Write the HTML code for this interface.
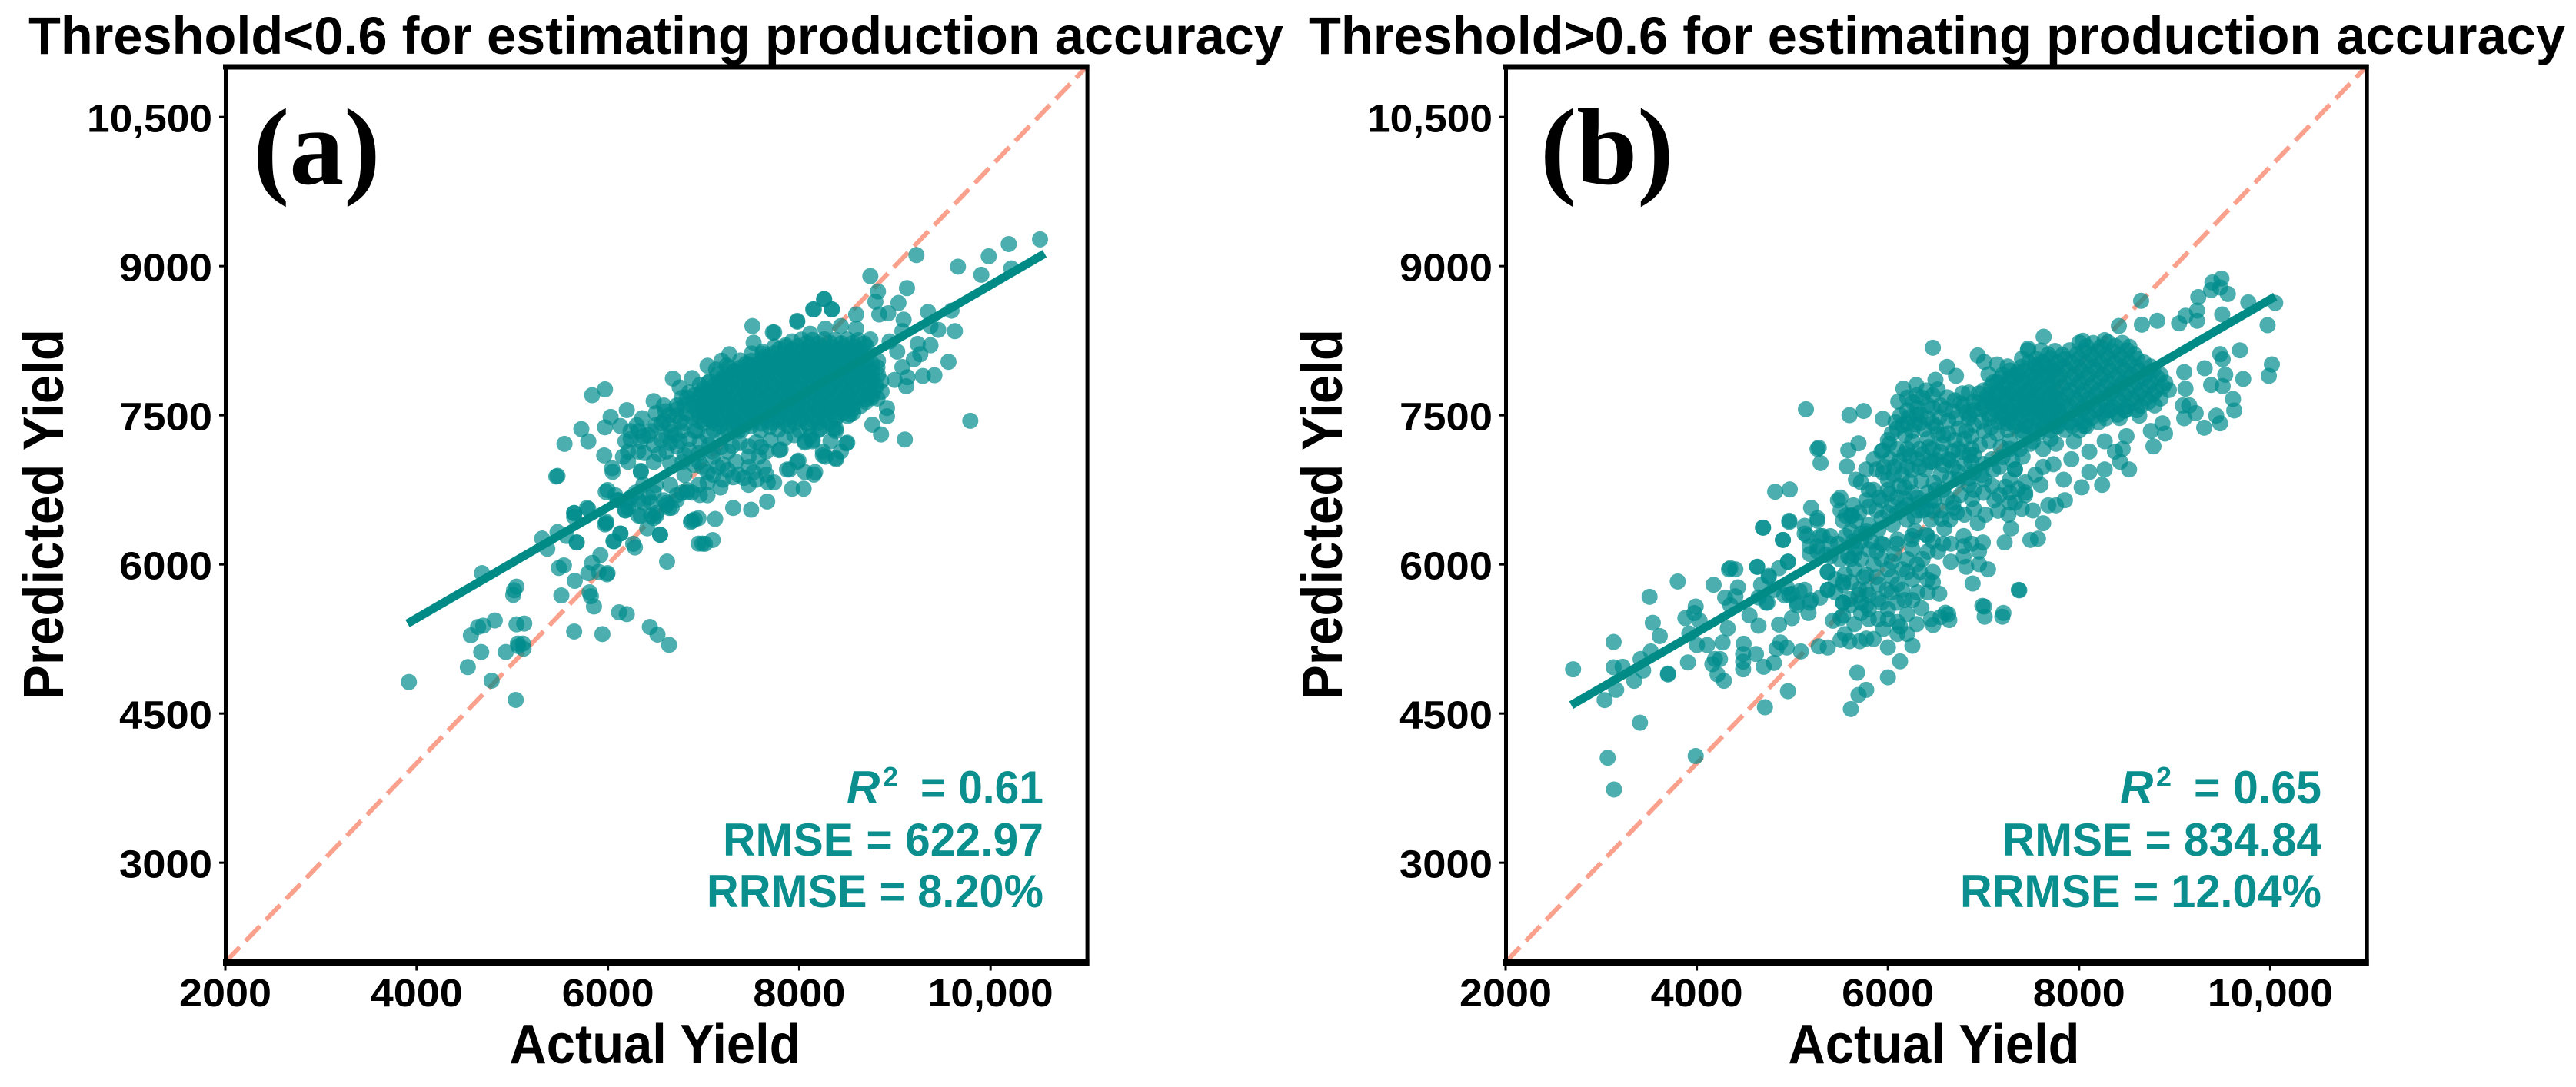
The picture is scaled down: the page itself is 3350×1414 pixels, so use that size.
<!DOCTYPE html>
<html lang="en">
<head>
<meta charset="utf-8">
<title>Actual vs predicted yield by threshold</title>
<style>
html,body{margin:0;padding:0;background:#fff;}
svg{display:block;}
text{font-family:"Liberation Sans","Noto Sans CJK SC",sans-serif;font-weight:700;fill:#000;}
.stat{fill:#0a8f8e;font-size:60px;}
.label{font-family:"Liberation Serif",serif;font-size:142px;}
</style>
</head>
<body>
<svg id="chart" xmlns="http://www.w3.org/2000/svg" width="3350" height="1414" viewBox="0 0 3350 1414">
  <rect width="3350" height="1414" fill="#fff"/>
  <g id="panelA"></g>
  <g id="panelB"></g>

  <text x="37" y="70" font-size="69" textLength="1632" lengthAdjust="spacingAndGlyphs">Threshold&lt;0.6 for estimating production accuracy</text>
  <text x="1702" y="70" font-size="69" textLength="1634" lengthAdjust="spacingAndGlyphs">Threshold&gt;0.6 for estimating production accuracy</text>

  <text class="label" x="329" y="239">(a)</text>
  <text class="label" x="2003" y="239">(b)</text>

  <text x="852" y="1383" font-size="72" text-anchor="middle" textLength="379" lengthAdjust="spacingAndGlyphs">Actual Yield</text>
  <text x="2515" y="1383" font-size="72" text-anchor="middle" textLength="379" lengthAdjust="spacingAndGlyphs">Actual Yield</text>
  <text transform="translate(82,669) rotate(-90)" font-size="74" text-anchor="middle" textLength="482" lengthAdjust="spacingAndGlyphs">Predicted Yield</text>
  <text transform="translate(1745,669) rotate(-90)" font-size="74" text-anchor="middle" textLength="482" lengthAdjust="spacingAndGlyphs">Predicted Yield</text>

  <g>
    <text class="stat" x="1101" y="1045" font-style="italic">R</text>
    <text class="stat" x="1148" y="1023" style="font-size:36px">2</text>
    <text class="stat" x="1197" y="1045" textLength="160" lengthAdjust="spacingAndGlyphs">= 0.61</text>
    <text class="stat" x="940" y="1113" textLength="417" lengthAdjust="spacingAndGlyphs">RMSE = 622.97</text>
    <text class="stat" x="919" y="1180" textLength="438" lengthAdjust="spacingAndGlyphs">RRMSE = 8.20%</text>
  </g>
  <g>
    <text class="stat" x="2757" y="1045" font-style="italic">R</text>
    <text class="stat" x="2804" y="1023" style="font-size:36px">2</text>
    <text class="stat" x="2853" y="1045" textLength="166" lengthAdjust="spacingAndGlyphs">= 0.65</text>
    <text class="stat" x="2604" y="1113" textLength="415" lengthAdjust="spacingAndGlyphs">RMSE = 834.84</text>
    <text class="stat" x="2549" y="1180" textLength="470" lengthAdjust="spacingAndGlyphs">RRMSE = 12.04%</text>
  </g>
</svg>
<script>
const xTickValues = [2000, 4000, 6000, 8000, 10000];
const xTickLabels = ["2000", "4000", "6000", "8000", "10,000"];
const yTickValues = [3000, 4500, 6000, 7500, 9000, 10500];
const yTickLabels = ["3000", "4500", "6000", "7500", "9000", "10,500"];
const axisDomain = [2000, 11000];
const regressionActualA = [3905, 10565];
const regressionPredictedA = [5405, 9125];
const regressionActualB = [2687, 10052];
const regressionPredictedB = [4584, 8694];

const scatterA = [
[3919,4817],[4535,4967],[4675,5119],[4784,4830],[5036,4637],[4932,5119],[5058,5204],[5117,5152],[5111,5204],[5063,5178],
[4567,5286],[4642,5371],[4696,5384],[4817,5436],[5044,5397],[5125,5405],[5010,5693],[5018,5740],[5044,5776],[4683,5912],
[5513,5688],[5653,5835],[5808,5719],[5822,5680],[5854,5577],[5647,5325],[5942,5299],[6116,5518],[6197,5500],[6438,5371],
[6518,5294],[6639,5191],[6618,6028],[6282,6170],[5487,5964],[5540,5990],[5795,5912],[5835,6015],[5921,6093],[5996,5912],
[5990,5900],[5902,5925],[6057,6234],[6130,6312],[5969,6402],[5982,6428],[5674,6222],[5366,6157],[5312,6260],[5473,6325],
[5567,6286],[5647,6518],[5647,6479],[5795,6557],[5460,6884],[5977,6729],[6545,6299],[6411,6363],[6478,6466],[6867,6428],
[6907,6453],[6987,6209],[6947,6209],[6049,6930],[6344,6930],[6103,6647],[6210,6621],[6317,6647],[6451,6621],[6612,6595],
[6719,6647],[6827,6724],[6183,6544],[6317,6492],[6505,6518],[6666,6570],[6960,6698],[6371,6801],[6478,6724],[6291,6724],
[5835,7702],[5969,7761],[5546,7212],[5722,7361],[5795,7238],[5969,7379],[6028,7483],[6197,7552],[6358,7470],[6478,7642],
[5961,7096],[6044,6967],[5473,6890],[6679,7869],[6880,7874],[7041,7998],[7188,8049],[7269,8114],[7510,8397],[7724,8333],
[7523,8230],[7979,8449],[8153,8565],[8260,8668],[8341,8565],[7858,8204],[7617,8140],[7309,6568],[7497,6550],[7665,6632],
[7121,6457],[6880,6439],[6947,6465],[7014,6207],[7095,6245],[6545,6297],[5674,6220],[6063,6233],[6130,6310],[5982,6413],
[6264,6207],[7041,6696],[7925,6761],[8046,6761],[8153,6903],[7899,6954],[7992,7044],[7805,7155],[8059,7225],[8140,7238],
[8247,7135],[8381,7070],[8502,7225],[8381,7367],[7470,6800],[7671,6825],[7523,6928],[7309,6877],[7175,6774],[6827,6748],
[6719,6696],[6612,6619],[6451,6490],[6371,6619],[6183,6542],[6076,6696],[5996,6748],[5647,6516],[5781,6568],[6532,7109],
[6612,7135],[6719,7186],[6210,7135],[6344,6941],[6210,7032],[6237,7263],[6371,7289],[6559,7418],[6719,7495],[6773,7676],
[6585,7598],[6880,7598],[6907,7341],[7041,7289],[7095,7083],[7041,6928],[7202,7006],[7336,7032],[7470,7186],[7577,7083],
[7657,7135],[7363,7341],[7202,7289],[6961,7805],[6300,7400],[6420,7300],[6660,7330],[6800,7420],[6640,7500],[6500,7520],
[6320,7340],[6800,7600],[6700,7300],[6850,7150],[6900,7000],[6800,6900],[6650,6800],[6500,6800],[6950,6800],[7100,6900],
[10517,9269],[10190,9222],[9981,9099],[9659,8995],[9903,8913],[10217,8977],[9225,9111],[8743,8900],[8823,8745],[9126,8779],
[9037,8630],[8796,8642],[8260,8668],[8145,8565],[8341,8565],[7979,8441],[8595,8514],[7738,8333],[8836,8514],[8930,8526],
[9091,8462],[9346,8539],[9592,8552],[9627,8346],[9453,8359],[9372,8398],[9372,8204],[9560,8037],[9413,7903],[9292,7895],
[9198,8063],[9265,8114],[9238,8217],[9131,7882],[9118,7792],[8997,7856],[9078,7985],[9024,8140],[9078,8346],[8944,8243],
[9788,7444],[9104,7256],[8855,7307],[8764,7405],[8917,7490],[8917,7573],[8493,7217],[8386,7058],[8247,7096],[8059,7238],
[8140,7251],[8354,7367],[7979,7032],[8166,6929],[7872,6954],[7791,7148],[8528,7509],[8756,7676],[8059,6929],
[6237,7341],[6344,7238],[6451,7341],[6585,7444],[6719,7598],[6827,7676],[6934,7547],[6773,7341],[6612,7289],[6934,7341],
[7095,7444],[7095,7598],[7041,7727],[7202,7856],[7309,7934],[7470,8011],[7631,8088],[7791,8165],[7925,8243],[8113,8320],
[8274,8372],[8435,8397],[8595,8372],[6130,7392],[6183,7238],[6157,7083],[6317,7135],[6103,6645],[6237,6671],[6425,6671],
[6585,6645],[6773,6722],[6880,6722],[6210,6568],[6344,6490],[6505,6490],[6639,6568],[7041,6825],[7202,6851],[7363,6903],
[7148,6980],[6987,6980],[7095,7135],[7255,7135],[7470,7083],[7470,6980],[7631,6980],[7657,6903],[7550,6851],[7738,6825],
[8327,7238],[8435,7135],[8274,7083],[8381,7341],[8113,7289],[8220,7367],
[6480,7200],[6560,7250],[6650,7220],[6750,7240],[6850,7260],[6960,7230],[7060,7200],[6500,7400],[6640,7400],[6760,7440],
[6880,7480],[6960,7440],[6720,7560],[6820,7520],[6600,7540],[6900,7700],[6980,7740],[7050,7830],[7130,7960],[7240,8000],
[6850,7730],[6750,7780],[6800,7100],[6950,7120],[7180,7180],[7300,7190],[7380,7220],[7550,7230],[7700,7250],[7850,7270],
[7950,7300],[7600,7180],[6380,7120],[6480,7030],[6650,7020],[6780,7030],[6950,7030],[7250,6950],[7420,6870],
[7104,7352],[7253,7345],[7402,7356],[7597,7348],[7781,7354],[8003,7347],[8204,7352],
[7003,7421],[7118,7417],[7244,7425],[7358,7418],[7483,7422],[7602,7416],[7718,7424],[7843,7419],[7957,7423],[8082,7417],[8203,7421],[8318,7425],
[6952,7491],[7068,7487],[7193,7495],[7309,7488],[7434,7492],[7548,7486],[7673,7494],[7788,7489],[7913,7493],[8028,7487],[8153,7491],[8268,7495],[8393,7488],[8507,7492],
[7004,7561],[7117,7557],[7243,7564],[7358,7558],[7484,7562],[7597,7556],[7723,7563],[7838,7559],[7963,7562],[8077,7557],[8203,7561],[8318,7564],[8443,7558],[8557,7562],
[6903,7631],[7018,7627],[7143,7634],[7257,7628],[7384,7632],[7497,7626],[7623,7633],[7738,7629],[7863,7632],[7977,7627],[8103,7631],[8218,7634],[8343,7628],[8457,7632],[8583,7627],[8698,7633],
[6963,7701],[7078,7697],[7203,7704],[7317,7698],[7443,7702],[7558,7696],[7683,7703],[7797,7699],[7923,7702],[8037,7697],[8163,7701],[8277,7704],[8403,7698],[8517,7702],[8643,7697],[8757,7703],
[7003,7771],[7118,7767],[7243,7774],[7357,7768],[7483,7772],[7597,7766],[7723,7773],[7838,7769],[7963,7772],[8077,7767],[8203,7771],[8317,7774],[8443,7768],[8557,7772],[8683,7767],[8797,7773],
[7063,7841],[7177,7837],[7303,7844],[7418,7838],[7543,7842],[7657,7836],[7783,7843],[7897,7839],[8023,7842],[8137,7837],[8263,7841],[8378,7844],[8503,7838],[8617,7842],[8743,7837],[8857,7843],
[7143,7911],[7258,7907],[7383,7914],[7497,7908],[7623,7912],[7738,7906],[7863,7913],[7977,7909],[8103,7912],[8217,7907],[8343,7911],[8458,7914],[8583,7908],[8697,7912],[8823,7907],
[7263,7981],[7378,7977],[7503,7984],[7617,7978],[7743,7982],[7858,7976],[7983,7983],[8097,7979],[8223,7982],[8337,7977],[8463,7981],[8578,7984],[8703,7978],[8817,7982],
[7383,8051],[7497,8047],[7623,8054],[7738,8048],[7863,8052],[7977,8046],[8103,8053],[8217,8049],[8343,8052],[8457,8047],[8583,8051],[8698,8054],[8823,8048],
[7503,8121],[7617,8117],[7743,8124],[7857,8118],[7983,8122],[8097,8116],[8223,8123],[8337,8119],[8463,8122],[8577,8117],[8703,8121],
[7743,8191],[7857,8187],[7983,8194],[8097,8188],[8223,8192],[8337,8186],[8463,8193],[8577,8189],[8703,8192],
[8023,8261],[8137,8257],[8263,8264],[8377,8258],[8503,8262],[8617,8256],[8743,8263],
[7166,7389],[7318,7382],[7497,7391],[7692,7384],[7889,7390],[8102,7383],
[7058,7458],[7178,7452],[7301,7461],[7419,7454],[7542,7459],[7661,7451],[7779,7460],[7902,7455],[8019,7458],[8143,7452],[8261,7457],[8379,7461],
[7011,7527],[7129,7522],[7252,7530],[7371,7523],[7491,7528],[7609,7521],[7732,7529],[7848,7524],[7971,7527],[8089,7522],[8212,7526],[8329,7530],[8451,7523],[8566,7527],
[6964,7597],[7083,7592],[7201,7599],[7322,7593],[7439,7597],[7561,7591],[7681,7598],[7802,7594],[7918,7597],[8041,7592],[8159,7596],[8281,7599],[8398,7593],[8521,7597],[8638,7592],
[7021,7667],[7141,7662],[7259,7669],[7382,7663],[7498,7667],[7621,7661],[7739,7668],[7862,7664],[7978,7667],[8101,7662],[8219,7666],[8341,7669],[8458,7663],[8581,7667],[8699,7662],[8818,7668],
[7061,7737],[7181,7732],[7299,7739],[7421,7733],[7541,7737],[7658,7731],[7781,7738],[7899,7734],[8021,7737],[8141,7732],[8259,7736],[8381,7739],[8499,7733],[8621,7737],[8741,7732],[8861,7738],
[7121,7807],[7238,7802],[7361,7809],[7479,7803],[7601,7807],[7719,7801],[7841,7808],[7958,7804],[8081,7807],[8199,7802],[8321,7806],[8439,7809],[8561,7803],[8679,7807],[8801,7802],
[7201,7877],[7319,7872],[7441,7879],[7559,7873],[7681,7877],[7799,7871],[7921,7878],[8039,7874],[8161,7877],[8279,7872],[8401,7876],[8519,7879],[8641,7873],[8759,7877],
[7321,7947],[7439,7942],[7561,7949],[7679,7943],[7801,7947],[7919,7941],[8041,7948],[8159,7944],[8281,7947],[8399,7942],[8521,7946],[8639,7949],[8761,7943],
[7441,8017],[7559,8012],[7681,8019],[7799,8013],[7921,8017],[8039,8011],[8161,8018],[8279,8014],[8401,8017],[8519,8012],[8641,8016],[8759,8019],
[7681,8087],[7799,8082],[7921,8089],[8039,8083],[8161,8087],[8279,8081],[8401,8088],[8519,8084],[8641,8087],
[7921,8157],[8039,8152],[8161,8159],[8279,8153],[8401,8157],[8519,8151],[8641,8158],
[8081,8227],[8201,8222],[8321,8229],[8441,8223],[8561,8227],[8681,8221]
];

const scatterB = [
[2706,4945],[3130,5220],[3036,4635],[3406,4408],[3068,4055],[3134,3736],[3989,4073],[3506,5674],[3801,5828],[3540,5413],[3613,5279],
[3130,4965],[3224,4970],[3157,4738],[3345,4829],[3439,4932],[3412,5048],[3519,5125],[3699,4901],[3699,4893],[3908,5014],
[3989,5576],[3975,5511],[3881,5460],[4029,5434],[3922,5305],[4002,5189],[4109,5189],[4190,5048],[4163,4996],[4243,5048],
[4217,4893],[4284,4829],[4324,5357],[4270,5215],[4176,5795],[4351,5962],[4337,5950],[4404,5950],[4297,5666],[4431,5769],
[4404,5679],[4351,5589],[4552,5486],[4646,5383],[4632,5975],[4753,5885],[4673,5795],[4861,5962],[4954,6027],[4740,5615],
[4914,5692],[4995,5705],[5075,5730],[5196,5640],[5169,5511],[4995,5460],[4861,5395],[5048,5589],[4490,5202],[4485,5099],
[4485,5022],[4485,4945],[4619,5099],[4700,4970],[4807,5009],[4874,5215],[4941,5164],[4834,5151],[5089,5125],[5276,5176],
[5370,5164],[5504,5241],[5598,5228],[5706,5228],[5773,5254],[4954,4725],[4713,4563],[5679,4911],[5692,4687],[5773,4738],
[5612,4545],[4692,6370],[4901,6246],[4968,6439],[5129,6310],[5290,6284],[5263,6465],[5183,6104],[5370,5924],[5370,5743],
[5531,5795],[5531,5615],[5424,5434],[5504,5460],[5719,5511],[5746,5872],[5612,6491],[5719,6310],[5612,6053],
[5142,7561],[5598,7501],[5746,7543],[5947,7465],[6470,8179],[6940,8102],[7463,8153],[6618,7986],[6497,7857],[6712,7896],
[6296,7805],[6162,7767],[6108,7638],[5263,7161],[5295,7019],[5276,7174],[5585,7148],[5692,7218],[5571,6986],[5665,6852],
[5947,7148],[6068,6981],[5880,6955],[4820,6731],[4973,6754],[4694,6370],[4901,6246],[4968,6427],[5196,6569],[5477,6646],
[5504,6672],[5625,6491],[5129,6388],[5263,6440],[5316,6285],[5155,6285],[5773,6646],[5907,6672],[6041,6594],[6175,6775],
[6309,6672],[6443,6646],[6202,6594],[6363,6543],[5880,6543],[5612,6337],[5477,6208],[5719,6233],[6282,6337],[6886,5808],
[7369,5744],[7007,5576],[7208,5512],[6631,5499],[6537,5705],[7047,5950],[6953,6002],[6819,5976],[6658,6027],[6940,6414],
[7288,6362],[7221,6221],[7490,6246],[7570,6259],[7624,6414],[6993,6221],[6792,6285],[6873,6208],[6792,6182],[6591,6362],
[6577,6208],[6416,6130],[6255,6156],[6068,6105],[5933,6053],[5773,5898],[5531,5821],[5370,5744],[5370,5924],[5182,5615],
[4968,5692],[4954,6027],[4753,5873],[4632,5976],[4726,5615],[5531,5615],[5799,5692],[6041,5718],[6255,5847],[6416,5847],
[6175,5641],[6416,5718],[6202,7548],[6363,7677],[6470,7702],[6846,7728],[6416,7470],[6255,7342],[6041,7316],[6524,7316],
[6712,7470],[6899,7548],[7087,7625],[7007,8037],[7141,8011],[7141,7831],[7355,7934],[7543,8012],[7624,8037],[7758,7960],
[7275,7728],[7490,7754],[7678,7805],[7382,7548],[7597,7599],[7758,7651],[7194,7470],[7436,7393],[7651,7419],[6873,7290],
[6738,7161],[6470,7161],[6309,7058],[6390,6955],[6551,6903],[6738,6852],[6899,6929],[7087,7058],[7275,7161],[7490,7213],
[7704,7264],[7329,6955],[7543,6903],[7731,7007],[7275,6723],[7436,6697],[7114,6646],[6899,6749],[6685,6620],[6551,6543],
[7678,6594],[7516,6543],[7275,6620],[6738,7367],[7007,7342],[6631,7316],[6094,7161],[6175,7110],[6000,7250],[6150,7400],
[6300,7500],[6550,7600],[6700,7650],[6850,7500],[6000,6850],[6150,6900],[6250,6950],[6500,7050],[6650,7050],[6850,7100],
[5850,6750],[6000,6750],[6500,6750],[6800,6500],[6650,6450],[6450,6450],[6200,6450],[6050,6400],[5900,6350],[5800,6400],
[6100,6250],[6250,6250],[6400,6300],[5950,6200],[5800,6150],[5650,6100],[5500,6050],[5350,6100],[5850,6000],[6000,5950],
[6150,5950],[6300,6000],[5650,5950],[5550,5900],[5450,5850],[5900,5800],[6100,5800],[5700,5750],[5600,5650],[5900,5650],
[5800,5550],[6000,5550],[6200,5500],[6350,5560],
[6202,7677],[6309,7574],[6202,7419],[6336,7419],[6470,7574],[6470,7419],[6631,7445],[6792,7599],[6846,7470],[6953,7625],
[7060,7470],[7168,7599],[7302,7548],[7436,7625],[7543,7522],[7678,7522],[7785,7548],[7275,7883],[7409,7857],[7543,7883],
[7678,7909],[7168,7728],[7382,7702],[7543,7702],[7704,7702],[7248,7419],[7409,7316],[7570,7316],[7758,7393],[7141,7316],
[6094,7367],[6255,7239],[6416,7264],[6577,7213],[6819,7342],[6873,7161],[6631,7058],[6470,7032],[6363,7110],[6202,7161],
[6014,7213],[5933,7135],[5853,7058],[5773,6955],[5960,6981],[5719,6826],[5799,6749],[5933,6646],[6094,6672],[6255,6723],
[6416,6723],[6577,6749],[6738,6929],[6873,7032],[7168,6981],[7409,7084],[7624,7161],[7275,6852],[7007,6852],[6846,6800],
[7436,6826],[7597,6800],[7168,6697],[6685,6568],[6470,6543],[6309,6543],[6094,6517],[5933,6465],[5638,6594],[5558,6491],
[5504,6543],[6255,6285],[6416,6285],[6094,6208],[5933,6208],[5773,6337],[5826,6233],[5665,6156],[5558,6285],[5397,6208],
[5263,6130],[5182,6182],[5397,6079],[5585,6079],[5719,6053],[5880,6130],[6041,6027],[6202,6053],[6363,6053],[6524,6130],
[6470,6233],[6658,6208],[6792,6079],[6953,6130],[5880,5873],[6041,5873],[6202,5924],[6336,5924],[6470,5924],[5987,5744],
[6148,5744],[6309,5718],[6470,5821],[5933,5615],[6094,5615],[6255,5641],[5719,5615],[5612,5821],[5773,5744],[5451,5718],
[5290,5666],[5129,5744],[4941,5770],[4807,5744],[4646,5667],[5048,5615],[5531,6439],[5665,6439],[5773,6310],[5639,6233],
[5397,6284],[5263,6181],[5612,5589],[5692,5692],[5531,5486],[5773,5589],[5800,5450],[5900,5450],[6000,5450],[6100,5420],
[5950,5350],[6100,5300],[6200,5300],[5650,5400],[5550,5300],[5850,5250],[6300,5400],[6450,5450],[6550,5470],
[6602,5514],[6988,5583],[7012,5474],[7197,5474],[7374,5739],[6642,5440],[6473,5390],[6127,5375],[6256,5182],[6000,5166],
[6127,5025],[6000,4864],
[6260,7630],[6340,7510],[6420,7600],[6540,7480],[6600,7560],[6680,7540],[6760,7620],[6820,7530],[6900,7640],[6980,7560],
[7040,7700],[6950,7720],[6780,7720],[6620,7680],[6520,7760],[6400,7750],[6300,7700],[6220,7480],[6130,7500],[6080,7430],
[6180,7300],[6280,7410],[6380,7360],[6500,7390],[6580,7300],[6700,7250],[6800,7260],[6900,7400],[6980,7440],[7080,7380],
[7060,7240],[6960,7200],[6900,7100],[6780,7130],[6680,7140],[6550,7130],[6430,7180],[6330,7160],[6230,7090],[6120,7040],
[6020,7060],[5950,6920],[6060,6900],[6200,6980],[6330,6980],[6440,7030],[6580,7000],[6680,6980],[6800,7010],[7000,7010],
[7100,6950],[7200,7080],[7180,7180],[7300,7050],[7380,7160],[6980,6900],[6850,6870],[6650,6860],[6480,6820],[6350,6840],
[6230,6830],[6120,6790],[6020,6710],[6180,6660],[6330,6620],[6480,6640],[6620,6670],[6760,6700],[6880,6660],[7000,6720],
[7090,6790],[7230,6780],[7360,6760],[5800,6580],[5700,6520],[6000,6520],[6150,6560],[6280,6480],[6400,6560],[6560,6460],
[6720,6520],[6900,6560],[7020,6500],[7150,6540],[7260,6500],[7400,6560],
[10052,8630],[9972,8406],[10017,8012],[9985,7896],[9770,8635],[9489,8875],[9395,8836],[9381,8759],[9475,8785],[9556,8720],
[9247,8689],[9234,8553],[9497,8514],[8649,8651],[8416,8398],[8657,8411],[8818,8450],[9046,8424],[9113,8501],[9234,8450],
[7629,8290],[7468,8171],[8040,8249],[8268,8256],[9682,8153],[9475,8115],[9502,8063],[9314,7973],[9529,7908],[9717,7865],
[9381,7805],[9502,7793],[9610,7664],[9623,7548],[9435,7496],[9475,7419],[9309,7375],[9100,7470],[9086,7599],[9153,7599],
[9220,7522],[9113,7767],[8939,7754],[9100,7934],[8791,7599],[8630,7496],[8295,7548],[8483,7548],[8872,7419],[8751,7342],
[8899,7316],[8778,7187],[8496,7290],[8456,7161],[8523,6955],[8429,7032],[8241,6800],[8027,6775],[7839,6852],[7852,6646],
[7758,6594],[7436,6723],[7329,6620],[8268,7238],[8107,7135],[8268,6955],[8107,6929],[7919,7058],[7624,6981],[7329,6955],
[8053,7393],[7946,7238],[7758,7213],[7517,7238],[7275,7238],[8375,7135],
[7253,7351],[7402,7346],[7551,7354],[7698,7348],[7853,7352],[8002,7347],
[7152,7431],[7298,7427],[7453,7434],[7601,7428],[7752,7432],[7897,7426],[8052,7433],[8203,7429],
[7053,7511],[7198,7507],[7352,7514],[7503,7508],[7648,7512],[7802,7506],[7953,7513],[8098,7509],[8252,7512],[8403,7507],
[7002,7591],[7153,7587],[7298,7594],[7452,7588],[7603,7592],[7748,7586],[7902,7593],[8053,7589],[8198,7592],[8352,7587],[8503,7591],[8648,7594],
[7052,7671],[7203,7667],[7348,7674],[7502,7668],[7653,7672],[7798,7666],[7952,7673],[8103,7669],[8248,7672],[8402,7667],[8553,7671],[8698,7674],[8852,7668],
[7003,7751],[7148,7747],[7302,7754],[7453,7748],[7598,7752],[7752,7746],[7903,7753],[8048,7749],[8202,7752],[8353,7747],[8498,7751],[8652,7754],[8803,7748],
[7102,7831],[7253,7827],[7398,7834],[7552,7828],[7703,7832],[7848,7826],[8002,7833],[8153,7829],[8298,7832],[8452,7827],[8603,7831],[8748,7834],[8902,7828],
[7052,7911],[7198,7907],[7352,7914],[7503,7908],[7648,7912],[7802,7906],[7953,7913],[8098,7909],[8252,7912],[8403,7907],[8548,7911],[8702,7914],[8853,7908],
[7252,7991],[7398,7987],[7553,7994],[7702,7988],[7848,7992],[8003,7986],[8152,7993],[8298,7989],[8453,7992],[8602,7987],[8748,7991],
[7403,8071],[7548,8067],[7702,8074],[7853,8068],[7998,8072],[8152,8066],[8303,8073],[8448,8069],[8602,8072],
[7603,8151],[7748,8147],[7902,8154],[8053,8148],[8198,8152],[8352,8146],[8503,8153],
[8003,8231],[8148,8227],[8302,8234],[8453,8228],
[7329,7392],[7478,7386],[7627,7394],[7776,7389],[7929,7393],[8078,7388],
[7226,7471],[7375,7467],[7529,7474],[7677,7468],[7826,7472],[7975,7466],[8128,7473],[8279,7469],[8424,7472],
[7127,7551],[7276,7547],[7428,7554],[7579,7548],[7724,7552],[7878,7546],[8027,7553],[8176,7549],[8328,7552],[8477,7547],[8602,7551],
[7077,7631],[7228,7627],[7376,7634],[7527,7628],[7678,7632],[7826,7626],[7978,7633],[8127,7629],[8276,7632],[8428,7627],[8577,7631],[8726,7634],
[7126,7711],[7277,7707],[7426,7714],[7578,7708],[7727,7712],[7876,7706],[8028,7713],[8177,7709],[8326,7712],[8478,7707],[8627,7711],[8776,7714],
[7077,7791],[7226,7787],[7378,7794],[7527,7788],[7676,7792],[7828,7786],[7977,7793],[8126,7789],[8278,7792],[8427,7787],[8576,7791],[8728,7794],[8877,7788],
[7176,7871],[7327,7867],[7476,7874],[7628,7868],[7777,7872],[7926,7866],[8078,7873],[8227,7869],[8376,7872],[8528,7867],[8677,7871],[8826,7874],
[7276,7951],[7427,7947],[7578,7954],[7727,7948],[7876,7952],[8028,7946],[8177,7953],[8326,7949],[8478,7952],[8627,7947],[8776,7951],
[7477,8031],[7626,8027],[7778,8034],[7927,8028],[8076,8032],[8228,8026],[8377,8033],[8526,8029],[8678,8032],
[7678,8111],[7827,8107],[7976,8114],[8128,8108],[8277,8112],[8426,8106],[8578,8113],
[8077,8191],[8226,8187],[8378,8194],[8527,8188]
];

const svgNS = 'http://www.w3.org/2000/svg';
const AXIS_TOP = 87.5;
const AXIS_BOTTOM = 1251.5;
const TICK_FONT = 51;

function makeLinear(domain, range) {
  const k = (range[1] - range[0]) / (domain[1] - domain[0]);
  return function (v) { return range[0] + (v - domain[0]) * k; };
}
function make(tag, props, parent) {
  const el = document.createElementNS(svgNS, tag);
  for (const key in props) el.setAttribute(key, props[key]);
  parent.appendChild(el);
  return el;
}

function drawPanel(group, prefix, left, right, points, regX, regY, clipId) {
  const xAxis = makeLinear(axisDomain, [left, right]);
  const yAxis = makeLinear(axisDomain, [AXIS_BOTTOM, AXIS_TOP]);
  const svg = document.getElementById('chart');

  const clip = make('clipPath', {id: clipId}, svg);
  make('rect', {x: left, y: AXIS_TOP, width: right - left, height: AXIS_BOTTOM - AXIS_TOP}, clip);

  const diagonal = make('line', {
    x1: xAxis(axisDomain[0]), y1: yAxis(axisDomain[0]), x2: xAxis(axisDomain[1]), y2: yAxis(axisDomain[1]),
    stroke: '#f9a18d', 'stroke-width': 6, 'stroke-dasharray': '27 11', 'clip-path': 'url(#' + clipId + ')'
  }, group);
  
  

  const pointsGroup = make('g', {fill: '#008b8b', 'fill-opacity': 0.7}, group);
  
  
  points.forEach(function (p) {
    const dot = make('circle', {cx: xAxis(p[0]), cy: yAxis(p[1]), r: 10.5}, pointsGroup);
    
    
  });

  const regression = make('line', {
    x1: xAxis(regX[0]), y1: yAxis(regY[0]), x2: xAxis(regX[1]), y2: yAxis(regY[1]),
    stroke: '#008b87', 'stroke-width': 11
  }, group);
  
  

  xTickValues.forEach(function (v, i) {
    const tick = make('line', {x1: xAxis(v), x2: xAxis(v), y1: AXIS_BOTTOM, y2: AXIS_BOTTOM + 11, stroke: '#000', 'stroke-width': 3}, group);
    
    
    const label = make('text', {
      x: xAxis(v), y: 1309, 'font-size': TICK_FONT, 'text-anchor': 'middle',
      textLength: xTickLabels[i].length > 4 ? 163 : 120, lengthAdjust: 'spacingAndGlyphs'
    }, group);
    label.textContent = xTickLabels[i];
    
    
  });

  yTickValues.forEach(function (v, i) {
    const tick = make('line', {x1: left - 8, x2: left, y1: yAxis(v), y2: yAxis(v), stroke: '#000', 'stroke-width': 3}, group);
    
    
    const wide = yTickLabels[i].length > 4;
    const label = make('text', {
      x: left - 17 - (wide ? 163 : 121), y: yAxis(v) + 19.5, 'font-size': TICK_FONT,
      textLength: wide ? 163 : 121, lengthAdjust: 'spacingAndGlyphs'
    }, group);
    label.textContent = yTickLabels[i];
    
    
  });

  const spineTop = make('line', {x1: left - 3, x2: right + 4, y1: 87, y2: 87, stroke: '#000', 'stroke-width': 7}, group);
  
  
  const spineBottom = make('line', {x1: left - 3, x2: right + 4, y1: 1252, y2: 1252, stroke: '#000', 'stroke-width': 8}, group);
  
  
  const spineLeft = make('line', {x1: left + 0.5, x2: left + 0.5, y1: 84, y2: 1256, stroke: '#000', 'stroke-width': 5}, group);
  
  
  const spineRight = make('line', {x1: right + 1.5, x2: right + 1.5, y1: 84, y2: 1256, stroke: '#000', 'stroke-width': 5}, group);
  
  
}

drawPanel(document.getElementById('panelA'), 'panel-a', 293, 1412.6, scatterA, regressionActualA, regressionPredictedA, 'clipA');
drawPanel(document.getElementById('panelB'), 'panel-b', 1958, 3076.7, scatterB, regressionActualB, regressionPredictedB, 'clipB');
</script>
</body>
</html>
